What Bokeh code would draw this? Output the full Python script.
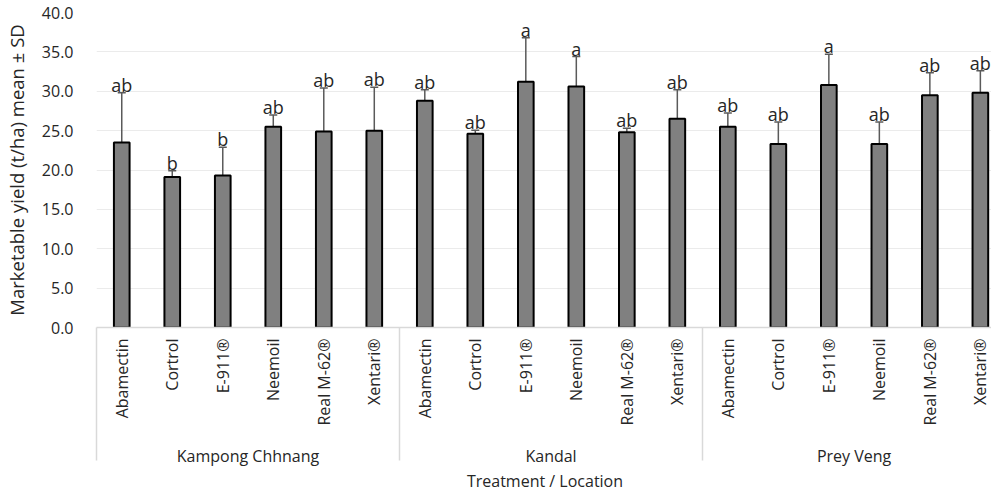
import math
import numpy as np
from bokeh.plotting import figure
from bokeh.models import (ColumnDataSource, Range1d, LinearAxis, FixedTicker,
                          NumeralTickFormatter, Whisker, TeeHead)
from bokeh.core.properties import value
from bokeh.embed import file_html
from bokeh.resources import INLINE

# ---- data ----
locations = ["Kampong Chhnang", "Kandal", "Prey Veng"]
treatments = ["Abamectin", "Cortrol", "E-911®", "Neemoil", "Real M-62®", "Xentari®"]

mean_kampong = [23.5, 19.1, 19.3, 25.5, 24.9, 25.0]
sd_kampong = [6.3, 0.8, 3.6, 1.5, 5.5, 5.5]
letters_kampong = ["ab", "b", "b", "ab", "ab", "ab"]

mean_kandal = [28.8, 24.6, 31.2, 30.6, 24.8, 26.5]
sd_kandal = [1.4, 0.45, 5.6, 3.8, 0.5, 3.7]
letters_kandal = ["ab", "ab", "a", "a", "ab", "ab"]

mean_prey = [25.5, 23.3, 30.8, 23.3, 29.5, 29.8]
sd_prey = [1.75, 2.8, 3.9, 2.8, 2.85, 2.8]
letters_prey = ["ab", "ab", "a", "ab", "ab", "ab"]

y_ticks = [0, 5, 10, 15, 20, 25, 30, 35, 40]

# ---- build source ----
means = mean_kampong + mean_kandal + mean_prey
sds = sd_kampong + sd_kandal + sd_prey
letters = letters_kampong + letters_kandal + letters_prey
names = treatments * len(locations)
xs = list(range(len(means)))
upper = [m + s for m, s in zip(means, sds)]
lower = [m - s for m, s in zip(means, sds)]

src = ColumnDataSource(dict(x=xs, mean=means, upper=upper, lower=lower,
                            letter=letters, name=names))

FONT = "Open Sans"
TXT = "#262626"
ERR = "#5a5a5a"
n_t = len(treatments)

p = figure(frame_width=897, frame_height=315,
           x_range=Range1d(-0.5, 17.26), y_range=Range1d(0, 40),
           output_backend="svg", toolbar_location=None,
           min_border_left=86, min_border_right=0, min_border_top=12,
           min_border_bottom=0, x_axis_location=None)
p.outline_line_color = None
p.background_fill_color = "white"
p.border_fill_color = "white"

# y axis
ya = p.yaxis[0]
ya.ticker = FixedTicker(ticks=y_ticks)
ya.formatter = NumeralTickFormatter(format="0.0")
ya.axis_line_color = None
ya.major_tick_line_color = None
ya.minor_tick_line_color = None
ya.major_label_standoff = 17
ya.major_label_text_font = FONT
ya.major_label_text_font_size = "16px"
ya.major_label_text_color = TXT
ya.axis_label = "Marketable yield (t/ha) mean ± SD"
ya.axis_label_text_font = FONT
ya.axis_label_text_font_size = "18.5px"
ya.axis_label_text_font_style = "normal"
ya.axis_label_text_color = TXT
ya.axis_label_standoff = 10

p.ygrid.grid_line_color = "#ebebeb"
p.ygrid.ticker = FixedTicker(ticks=y_ticks)
p.xgrid.grid_line_color = None

# treatment axis with group separators as long minor ticks
seps = [i * n_t - 0.5 for i in range(len(locations) + 1)]
ax1 = LinearAxis(ticker=FixedTicker(ticks=xs, minor_ticks=seps),
                 major_label_overrides={x: n for x, n in zip(xs, names)})
ax1.axis_line_color = "#d9d9d9"
ax1.axis_line_width = 1.5
ax1.major_tick_line_color = None
ax1.major_tick_out = 0
ax1.major_tick_in = 0
ax1.minor_tick_line_color = "#d9d9d9"
ax1.minor_tick_line_width = 1.5
ax1.minor_tick_in = -133
ax1.minor_tick_out = 0
ax1.major_label_orientation = math.pi / 2
ax1.major_label_standoff = 11
ax1.major_label_text_font = FONT
ax1.major_label_text_font_size = "16px"
ax1.major_label_text_color = TXT
p.add_layout(ax1, "below")

# location axis
centers = [i * n_t + (n_t - 1) / 2 for i in range(len(locations))]
ax2 = LinearAxis(ticker=FixedTicker(ticks=centers),
                 major_label_overrides={c: l for c, l in zip(centers, locations)})
ax2.axis_line_color = None
ax2.major_tick_line_color = None
ax2.minor_tick_line_color = None
ax2.major_tick_out = 0
ax2.major_tick_in = 0
ax2.minor_tick_out = 0
ax2.minor_tick_in = 0
ax2.major_label_standoff = 16
ax2.major_label_text_font = FONT
ax2.major_label_text_font_size = "16px"
ax2.major_label_text_color = TXT
ax2.axis_label = "Treatment / Location"
ax2.axis_label_text_font = FONT
ax2.axis_label_text_font_size = "16px"
ax2.axis_label_text_font_style = "normal"
ax2.axis_label_text_color = TXT
ax2.axis_label_standoff = 0
p.add_layout(ax2, "below")

# bars
p.vbar(x="x", top="mean", width=0.31, source=src, fill_color="#808080",
       line_color="black", line_width=2)

# error bars
w = Whisker(base="x", upper="upper", lower="lower", source=src,
            line_color=ERR, line_width=1.5,
            upper_head=TeeHead(size=8, line_color=ERR, line_width=1.5),
            lower_head=TeeHead(size=8, line_color=ERR, line_width=1.5))
p.add_layout(w)

# significance letters
p.text(x="x", y="upper", text="letter", source=src, y_offset=-8,
       text_align="center", text_baseline="alphabetic",
       text_font=value(FONT), text_font_size="18px", text_color=TXT)

open("out.html", "w").write(file_html(p, INLINE))
